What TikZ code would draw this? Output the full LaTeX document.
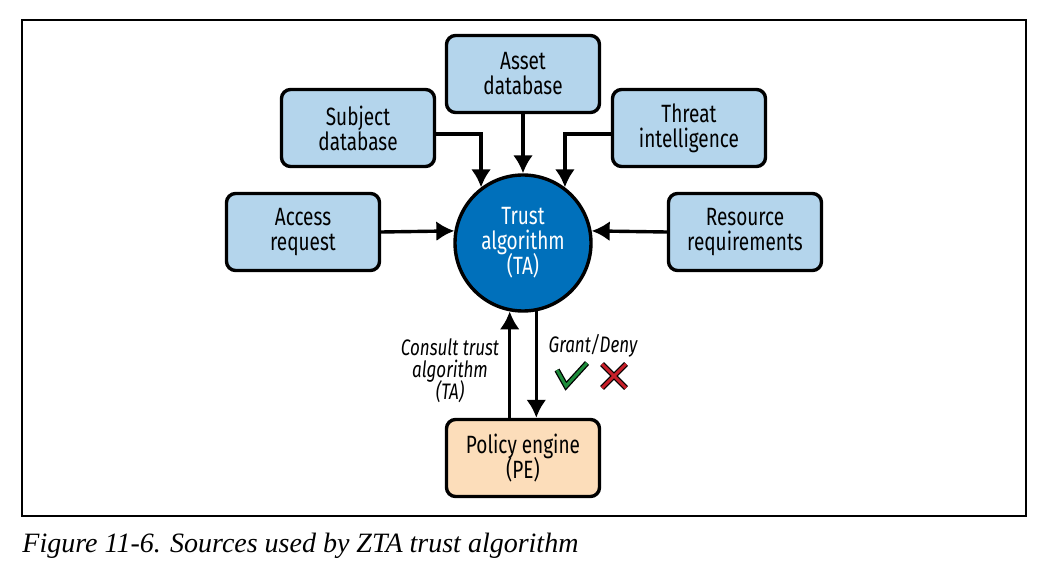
\documentclass[tikz,border=0pt]{standalone}
\usepackage{fontspec}
\setmainfont{Fira Sans}[FakeStretch=0.76]
\newfontfamily\capfont{Liberation Serif}
\usepackage{xcolor}
\usetikzlibrary{positioning, arrows.meta}
\definecolor{srcblue}{HTML}{B4D5EC}
\definecolor{tablue}{HTML}{0070BB}
\definecolor{pepeach}{HTML}{FCDDBA}
\definecolor{okgreen}{HTML}{1E8C3C}
\definecolor{nored}{HTML}{C8202A}
\setlength{\lineskiplimit}{-10pt}

\begin{document}
\begin{tikzpicture}[x=0.5pt, y=-0.5pt,
  font=\fontsize{12.5}{12.5}\selectfont,
  src/.style={draw, line width=1.7pt, rounded corners=4.5pt, fill=srcblue,
              minimum width=76.5pt, minimum height=38.5pt, align=center},
  lbl/.style={font=\fontsize{11.2}{11}\selectfont\itshape, align=center},
  flow/.style={->, line width=1.7pt},
  >={Latex[length=9pt, width=10pt]}]
  \useasboundingbox (0,0) rectangle (1044,577);
  \draw[line width=0.6pt] (22,20) rectangle (1026,516);

  % trust algorithm in the middle
  \node[circle, draw, line width=1.7pt, fill=tablue, text=white,
        minimum size=68pt, align=center] (ta) at (523,243)
        {Trust\\algorithm\\(TA)};

  % sources
  \node[src] (asset)    at (523,74)  {Asset\\database};
  \node[src] (subject)  at (358,128) {Subject\\database};
  \node[src] (threat)   at (689,128) {Threat\\intelligence};
  \node[src] (access)   at (303,232) {Access\\request};
  \node[src] (resource) at (745,232) {Resource\\requirements};

  \node[src, fill=pepeach] (pe) at (523,458) {Policy engine\\(PE)};

  \draw[flow] (asset) -- (ta);
  \draw[flow] ([yshift=-3pt]subject.east) -| (ta.127);
  \draw[flow] ([yshift=-3pt]threat.west) -| (ta.53);
  \draw[flow] (access.east) -- (ta.170);
  \draw[flow] (resource.west) -- (ta.10);
  \draw[flow] (ta.259 |- pe.north) -- (ta.259);
  \draw[flow] (ta.281) -- (ta.281 |- pe.north);

  \node[lbl] (consult) at (450,371) {Consult trust\\algorithm\\(TA)};
  \node[lbl] (grant) at (593,346) {Grant/Deny};

  % check and cross
  \draw[line width=2.8pt] (557,370) -- (566,386) -- (587,363);
  \draw[line width=1.5pt, okgreen] (557,370) -- (566,386) -- (587,363);
  \draw[line width=2.8pt] (602,364) -- (626,388) (626,364) -- (602,388);
  \draw[line width=1.5pt, nored] (602,364) -- (626,388) (626,364) -- (602,388);

  \node[anchor=base west, inner sep=0pt,
        font=\capfont\itshape\fontsize{14}{16}\selectfont] (cap) at (22,552)
        {Figure 11-6. Sources used by ZTA trust algorithm};
\end{tikzpicture}
\end{document}
